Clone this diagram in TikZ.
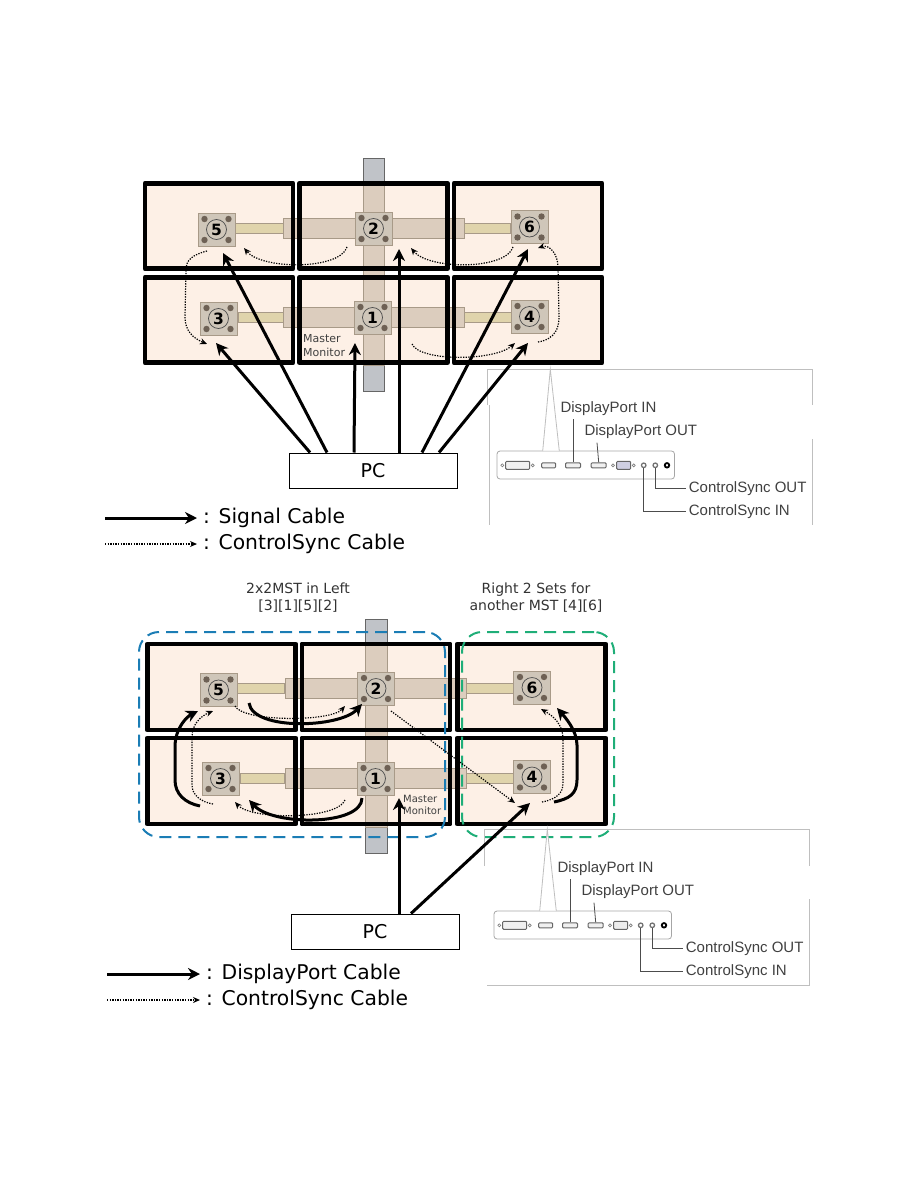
\documentclass[tikz,border=0pt]{standalone}
\usepackage{fontspec}
\setmainfont{DejaVu Sans}
\newfontfamily\helvfont{Liberation Sans}
\usetikzlibrary{positioning, arrows.meta, calc}

\definecolor{panelfill}{HTML}{FDF0E6}
\definecolor{polegray}{HTML}{C0C3C8}
\definecolor{armfill}{HTML}{DCCDBE}
\definecolor{armedge}{HTML}{A89A88}
\definecolor{rodfill}{HTML}{E0D4AC}
\definecolor{platefill}{HTML}{CFC6B9}
\definecolor{holefill}{HTML}{6E6155}
\definecolor{leftblue}{HTML}{1B7DB5}
\definecolor{rightgreen}{HTML}{1FAE78}

\tikzset{
    portpanel/.pic={
        \draw[gray!70, rounded corners=3pt, line width=0.8pt] (0,0) rectangle (177.5,28);
        % neck of the zoom wedge
        \fill[white] (45.7,-0.5) -- (53.3,-81.7) -- (62.3,-0.5) -- cycle;
        \draw[gray!50, line width=0.8pt] (45.7,0) -- (53.3,-81.7) -- (62.3,0);
        \node[port, minimum width=24pt, minimum height=8pt] (dvi) at (20.7,14.3) {};
        \node[port, minimum width=14pt, minimum height=5pt] (hdmi) at (51.7,14.3) {};
        \node[port, minimum width=15pt, minimum height=5pt] (dpin) at (76,14.3) {};
        \node[port, minimum width=15pt, minimum height=5pt] (dpout) at (101.7,14.3) {};
        \node[port, minimum width=14pt, minimum height=8pt, fill=#1] (vga) at (126.7,14.3) {};
        \foreach \sx in {5.3,35.7,116,136.7}
            \draw[gray, line width=0.7pt] (\sx,14.3) circle (1.5);
        \node[jack] (csin) at (146.7,14.3) {};
        \node[jack] (csout) at (158.3,14.3) {};
        \node[jack, draw=black, line width=1.8pt] (power) at (170,14.3) {};
        \node[portlabel] (dpinlabel) at (63.3,-42.7) {DisplayPort IN};
        \node[portlabel] (dpoutlabel) at (87.3,-19.3) {DisplayPort OUT};
        \node[portlabel] (csoutlabel) at (191.7,37.3) {ControlSync OUT};
        \node[portlabel] (csinlabel) at (191.7,60.7) {ControlSync IN};
        \draw[leader] (76,-31.7) -- (dpin.north);
        \draw[leader] (100,-8.3) -- (dpout.north);
        \draw[leader] (csout.south) |- ([xshift=-3pt]csoutlabel.west);
        \draw[leader] (csin.south) |- ([xshift=-3pt]csinlabel.west);
    },
    port/.style={draw=black!60, fill=gray!12, line width=1pt, rounded corners=1pt, inner sep=0pt},
    jack/.style={circle, draw=black!55, line width=1.3pt, minimum size=4.5pt, inner sep=0pt},
    portlabel/.style={anchor=west, inner sep=0pt, text=black!75, font=\helvfont\fontsize{15}{15}\selectfont},
    leader/.style={black!70, line width=0.8pt}
}

\begin{document}
\begin{tikzpicture}[
        x=1pt, y=-1pt,
        screen/.style={rectangle, fill=panelfill, inner sep=0pt, minimum width=148pt},
        bezel/.style={draw=black, line width=4.5pt, line join=round},
        pole/.style={rectangle, draw=black!60, fill=polegray, inner sep=0pt, line width=1pt},
        polemid/.style={rectangle, draw=armedge, fill=armfill, inner sep=0pt, line width=0.8pt},
        arm/.style={rectangle, draw=armedge, fill=armfill, inner sep=0pt, line width=0.8pt,
                    minimum width=181pt, minimum height=20pt},
        rod/.style={rectangle, draw=armedge, fill=rodfill, inner sep=0pt, line width=0.8pt, minimum height=10pt},
        plate/.style={rectangle, draw=armedge, fill=platefill, inner sep=0pt, line width=0.8pt,
                      minimum width=37pt, minimum height=33pt, font=\bfseries\fontsize{15.5}{15.5}\selectfont},
        pcbox/.style={rectangle, draw=black, fill=white, line width=1pt, inner sep=0pt,
                      minimum width=168pt, minimum height=35pt, font=\fontsize{19}{19}\selectfont},
        signal/.style={-{Stealth[length=12pt, width=12pt]}, line width=3pt},
        sync/.style={-{Stealth[length=7pt, width=6pt]}, line width=1.2pt, dash pattern=on 1.3pt off 1.3pt},
        legend/.style={anchor=west, inner sep=0pt, font=\fontsize{20.3}{20.3}\selectfont},
        note/.style={align=center, inner sep=0pt, text=black!80, font=\fontsize{14}{17}\selectfont},
        master/.style={align=left, anchor=north west, inner sep=0pt, text=black!75}
    ]
        \useasboundingbox (0,0) rectangle (918,1188);

        % upright poles behind the screens
        \node[pole, minimum width=21pt, minimum height=233pt] (polea) at (373.5,274.5) {};
        \node[pole, minimum width=22pt, minimum height=234pt] (poleb) at (376,736) {};

        % screens
        \foreach \n/\x/\y in {a5/219/226, a2/373.5/226, a6/528/226, a3/219/320, a1/373.5/320, a4/528/320}
            \node[screen, minimum height=85pt] (\n) at (\x,\y) {};
        \foreach \n/\x/\y in {b5/221.5/687, b2/376/687, b6/531.5/687, b3/221.5/781, b1/376/781, b4/531.5/781}
            \node[screen, minimum height=86pt] (\n) at (\x,\y) {};

        % mounting bars
        \node[polemid, minimum width=21pt, minimum height=183pt] (poleamid) at (373.5,273.5) {};
        \node[polemid, minimum width=22pt, minimum height=185pt] (polebmid) at (376,734.5) {};
        \foreach \n/\x/\y in {armau/373.5/228, armal/373.5/317, armbu/375.5/688, armbl/375.5/778}
            \node[arm] (\n) at (\x,\y) {};
        \foreach \n/\x/\y/\w in {roda5/259/228/48, roda6/487/228/46, roda3/260.5/317/45, roda4/487.5/317/47,
                                 rodb5/260.5/688.5/47, rodb6/489.5/688.5/47, rodb3/262/778/44, rodb4/489.5/778/47}
            \node[rod, minimum width=\w pt] (\n) at (\x,\y) {};

        % bezels go over the bars
        \foreach \n in {a1,a2,a3,a4,a5,a6,b1,b2,b3,b4,b5,b6}
            \draw[bezel] (\n.south west) rectangle (\n.north east);

        % plates with their four holes
        \foreach \n/\x/\y/\d in {p5/216.5/229.5/5, p2/373.5/228.5/2, p6/529.5/227/6, p3/218.5/318.5/3, p1/372.5/317.5/1, p4/529.5/316.5/4,
                                 q5/218.5/690/5, q2/376/688.5/2, q6/532/687.5/6, q3/220.5/778.5/3, q1/375.5/778.5/1, q4/532/777/4} {
            \node[plate] (\n) at (\x,\y) {\d};
            \draw[black!70, line width=0.7pt] (\n) circle (10);
            \foreach \hx/\hy in {-12/-10.5, 12/-10.5, -12/10.5, 12/10.5}
                \fill[holefill] ([shift={(\hx,\hy)}]\n.center) circle (3.2);
        }

        % master labels
        \node[master, font=\fontsize{11}{14}\selectfont] (mastera) at (303,334) {Master\\Monitor};
        \node[master, font=\fontsize{10}{12.5}\selectfont] (masterb) at (403,795) {Master\\Monitor};

        % group outlines
        \node[rectangle, draw=leftblue, line width=2pt, dash pattern=on 12pt off 7pt, rounded corners=20pt,
              minimum width=306pt, minimum height=205pt, inner sep=0pt] (leftset) at (292,734.5) {};
        \node[rectangle, draw=rightgreen, line width=2pt, dash pattern=on 12pt off 7pt, rounded corners=20pt,
              minimum width=152pt, minimum height=205pt, inner sep=0pt] (rightset) at (538,734.5) {};
        \node[note] (leftnote) at (298,598) {2x2MST in Left\\{[3][1][5][2]}};
        \node[note] (rightnote) at (536,598) {Right 2 Sets for\\another MST [4][6]};

        % port panels
        \draw[gray!50, line width=0.8pt] (489,405) -- (489,525);
        \draw[gray!50, line width=0.8pt] (487,405) -- (487,369) -- (812,369) -- (812,405);
        \draw[gray!50, line width=0.8pt] (812,439) -- (812,525);
        \draw[gray!50, line width=0.8pt] (484,866) -- (484,829) -- (809,829) -- (809,866);
        \draw[gray!50, line width=0.8pt] (809,899) -- (809,985) -- (487,985);
        \pic (panela) at (497,451) {portpanel={blue!25!gray!30}};
        \pic (panelb) at (494,911) {portpanel={gray!15}};

        % PCs
        \node[pcbox] (pca) at (373,470.5) {PC};
        \node[pcbox] (pcb) at (375,931.5) {PC};

        % signal cables
        \draw[signal] ([xshift=-63pt]pca.north) -- ([shift={(-2.5,24.5)}]p3.center);
        \draw[signal] ([xshift=-46pt]pca.north) -- ([shift={(6.5,23.5)}]p5.center);
        \draw[signal] ([xshift=-19pt]pca.north) -- ([shift={(-17.5,25.5)}]p1.center);
        \draw[signal] ([xshift=26pt]pca.north) -- ([shift={(25.5,20.5)}]p2.center);
        \draw[signal] ([xshift=49pt]pca.north) -- ([shift={(-1.5,22)}]p6.center);
        \draw[signal] ([xshift=66pt]pca.north) -- ([shift={(-1.5,26.5)}]p4.center);
        \draw[signal] ([xshift=24pt]pcb.north) -- ([shift={(23.5,19.5)}]q1.center);
        \draw[signal] ([xshift=36pt]pcb.north) -- ([shift={(-2,26)}]q4.center);

        % MST links between the lower screens
        \draw[signal] ([shift={(-20.5,27.5)}]q3.center) .. controls +(-15,-3) and +(0,14) .. ++(-25,-26)
            -- ++(0,-33) .. controls +(0,-20) and +(-10,5) .. ([shift={(-20.5,21)}]q5.center);
        \draw[signal] ([shift={(30.5,13)}]q5.center) .. controls +(4,28) and +(-22,24) .. ([shift={(-14,15.5)}]q2.center);
        \draw[signal] ([shift={(-13.5,19.5)}]q1.center) .. controls +(0,28) and +(24,26) .. ([shift={(28.5,21.5)}]q3.center);
        \draw[signal] ([shift={(22,25)}]q4.center) .. controls +(15,-3) and +(0,14) .. ++(23,-22)
            -- ++(0,-35) .. controls +(0,-15) and +(7,8) .. ([shift={(25,20.5)}]q6.center);

        % sync cables, upper wall
        \draw[sync] ([shift={(-26.5,18.5)}]p2.center) .. controls +(-7,23) and +(18,22) .. ([shift={(27.5,18.5)}]p5.center);
        \draw[sync] ([shift={(-16.5,20)}]p6.center) .. controls +(-7,23) and +(18,22) .. ([shift={(37.5,19.5)}]p2.center);
        \draw[sync] ([shift={(8.5,25.5)}]p4.center) .. controls +(18,-3) and +(0,10) .. ++(21,-25)
            -- ++(-1,-50) .. controls +(0,-12) and +(12,-4) .. ([shift={(8.5,21)}]p6.center);
        \draw[sync] ([shift={(39.5,26.5)}]p1.center) .. controls +(8,18) and +(-20,18) .. ([shift={(-14.5,26.5)}]p4.center);
        \draw[sync] ([shift={(-9.5,21.5)}]p5.center) .. controls +(-15,4) and +(0,-10) .. ++(-21,19)
            -- ++(-1,47) .. controls +(0,14) and +(-14,-6) .. ([shift={(-11.5,25.5)}]p3.center);

        % sync cables, lower wall
        \draw[sync] ([shift={(16.5,16)}]q5.center) .. controls +(8,16) and +(-14,16) .. ([shift={(-31,17.5)}]q2.center);
        \draw[sync] ([shift={(-7.5,25.5)}]q3.center) .. controls +(-12,-2) and +(0,10) .. ++(-21,-19)
            -- ++(0,-48) .. controls +(0,-13) and +(-12,5) .. ([shift={(-5.5,21)}]q5.center);
        \draw[sync] ([shift={(-30.5,21.5)}]q1.center) .. controls +(-8,20) and +(16,18) .. ([shift={(14.5,23.5)}]q3.center);
        \draw[sync] ([shift={(15,22.5)}]q2.center) -- ([shift={(-17,26)}]q4.center);
        \draw[sync] ([shift={(10,25)}]q4.center) .. controls +(15,-3) and +(0,10) .. ++(21,-19)
            -- ++(0,-44) .. controls +(0,-15) and +(12,7) .. ([shift={(9,21.5)}]q6.center);

        % legends
        \coordinate (keya) at (105,518);
        \coordinate (keyb) at (105,544);
        \coordinate (keyc) at (107,974);
        \coordinate (keyd) at (107,1000);
        \node[legend] (signalkey) at (203,518) {: Signal Cable};
        \node[legend] (synckey) at (203,544) {: ControlSync Cable};
        \node[legend] (dpkey) at (206,974) {: DisplayPort Cable};
        \node[legend] (synckeyb) at (206,1000) {: ControlSync Cable};
        \draw[signal] (keya) -- ([xshift=-6pt]signalkey.west |- keya);
        \draw[sync] (keyb) -- ([xshift=-6pt]synckey.west |- keyb);
        \draw[signal] (keyc) -- ([xshift=-6pt]dpkey.west |- keyc);
        \draw[sync] (keyd) -- ([xshift=-6pt]synckeyb.west |- keyd);
    \end{tikzpicture}
\end{document}
